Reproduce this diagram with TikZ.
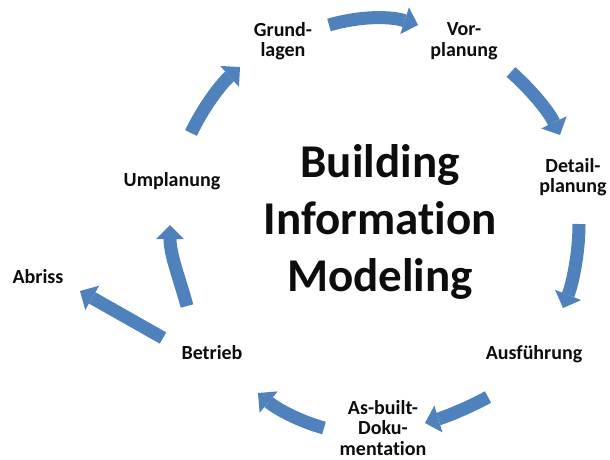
\documentclass[tikz,border=0pt]{standalone}
\usepackage{fontspec}
\setmainfont{Carlito}[Ligatures=NoCommon]
\usepackage{tikz}
\usetikzlibrary{arrows.meta,positioning}
\definecolor{bim blue}{RGB}{79,129,189}
\definecolor{bim text}{RGB}{13,13,13}
\tikzset{
    cycle arrow/.style={draw=bim blue,line width=13pt,
        -{Triangle[width=28pt,length=14pt,line width=0pt]}},
    phase/.style={text=bim text,inner sep=0pt,align=center,
        font=\fontsize{20}{20.5}\selectfont\bfseries},
    title/.style={text=bim text,inner sep=0pt,align=center,
        font=\fontsize{47}{57}\selectfont\bfseries},
}

\begin{document}
\begin{tikzpicture}[x=1pt,y=-1pt]
    \fill[white] (0,0) rectangle (610,459);
    \useasboundingbox (0,0) rectangle (610,459);

    % title in the middle
    \node[title] (bim) at (380,222) {Building\\Information\\Modeling};

    % phases
    \node[phase] (grundlagen) at (283,41) {Grund-\\lagen};
    \node[phase] (vorplanung) at (464,41) {Vor-\\planung};
    \node[phase] (detail) at (573,177) {Detail-\\planung};
    \node[phase] (ausfuehrung) at (534,354) {Ausführung};
    \node[phase] (asbuilt) at (383,428) {As-built-\\Doku-\\mentation};
    \node[phase] (betrieb) at (212,353) {Betrieb};
    \node[phase] (abriss) at (38,277) {Abriss};
    \node[phase] (umplanung) at (172,181) {Umplanung};

    % arrow ends
    \coordinate (gv tail) at (329,25);   \coordinate (gv tip) at (418,25);
    \coordinate (vd tail) at (511,72);   \coordinate (vd tip) at (560,135);
    \coordinate (da tail) at (579,224);  \coordinate (da tip) at (563,308);
    \coordinate (aa tail) at (488,397);  \coordinate (aa tip) at (425,423);
    \coordinate (ab tail) at (324,428);  \coordinate (ab tip) at (258,393);
    \coordinate (br tail) at (163,338);  \coordinate (br tip) at (80,291);
    \coordinate (bu tail) at (187,306);  \coordinate (bu tip) at (170,225);
    \coordinate (ug tail) at (191,133);  \coordinate (ug tip) at (240,67);

    % the cycle
    \draw[cycle arrow] (gv tail) .. controls (360,16) and (390,16) .. (gv tip);
    \draw[cycle arrow] (vd tail) .. controls (530,89) and (548,110) .. (vd tip);
    \draw[cycle arrow] (da tail) .. controls (579,255) and (572,285) .. (da tip);
    \draw[cycle arrow] (aa tail) .. controls (468,408) and (445,417) .. (aa tip);
    \draw[cycle arrow] (ab tail) .. controls (302,422) and (278,410) .. (ab tip);
    \draw[cycle arrow] (br tail) -- (br tip);
    \draw[cycle arrow] (bu tail) .. controls (180,280) and (170,255) .. (bu tip);
    \draw[cycle arrow] (ug tail) .. controls (203,108) and (220,85) .. (ug tip);
\end{tikzpicture}
\end{document}
